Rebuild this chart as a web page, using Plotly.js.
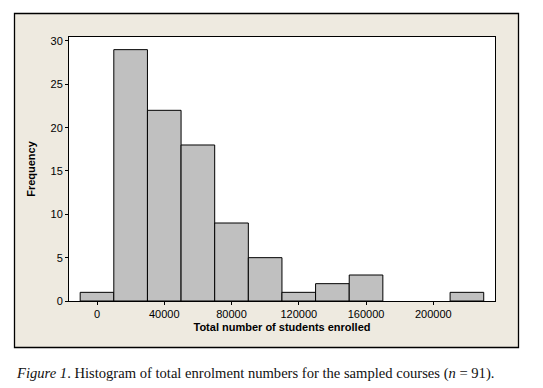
<!DOCTYPE html>
<html>
<head>
<meta charset="utf-8">
<script src="https://cdn.plot.ly/plotly-3.0.1.min.js"></script>
<style>html,body{margin:0;padding:0;background:#fff;}#chart{width:543px;height:388px;}</style>
</head>
<body>
<div id="chart"></div>
<script>
// Data (bin width 20000)
var binCenters = [0, 20000, 40000, 60000, 80000, 100000, 120000, 140000, 160000, 180000, 200000, 220000];
var frequencies = [1, 29, 22, 18, 9, 5, 1, 2, 3, 0, 0, 1];
var binWidth = 20000;
var xTickVals = [0, 40000, 80000, 120000, 160000, 200000];
var yTickVals = [0, 5, 10, 15, 20, 25, 30];
var xTitle = 'Total number of students enrolled';
var yTitle = 'Frequency';
var caption = '<i>Figure 1</i>. Histogram of total enrolment numbers for the sampled courses (<i>n</i> = 91).';

var W = 543, H = 388;
var L = 69, R = 495, T = 37, B = 301;
var pw = R - L, ph = B - T;
function px(x) { return (x - L) / pw; }
function py(y) { return (B - y) / ph; }

var trace = {
  type: 'bar',
  x: binCenters,
  y: frequencies,
  width: binCenters.map(function(){ return binWidth; }),
  marker: {
    color: '#c0c0c0',
    line: { color: '#000', width: frequencies.map(function(v){ return v > 0 ? 1 : 0; }) }
  },
  hoverinfo: 'x+y'
};

var font = { family: 'Liberation Sans, Arial, sans-serif', size: 11, color: '#000' };
var boldFont = { family: 'Liberation Sans, Arial, sans-serif', size: 11, color: '#000', weight: 'bold' };

var layout = {
  width: W, height: H,
  margin: { l: L, r: W - R, t: T, b: H - B, pad: 0 },
  paper_bgcolor: '#ffffff',
  plot_bgcolor: '#ffffff',
  showlegend: false,
  bargap: 0,
  font: font,
  xaxis: {
    range: [-16650, 236700],
    tickvals: xTickVals,
    tickformat: 'd',
    ticks: 'outside', ticklen: 3, tickwidth: 1, tickcolor: '#000',
    showline: true, linecolor: '#000', linewidth: 1, mirror: true,
    showgrid: false, zeroline: false,
    tickfont: font,
    title: { text: xTitle, font: boldFont, standoff: 4 },
    fixedrange: true
  },
  yaxis: {
    range: [0, 30.46],
    tickvals: yTickVals,
    ticks: 'outside', ticklen: 3, tickwidth: 1, tickcolor: '#000',
    showline: true, linecolor: '#000', linewidth: 1, mirror: true,
    showgrid: false, zeroline: false,
    tickfont: font,
    title: { text: yTitle, font: boldFont, standoff: 12 },
    fixedrange: true
  },
  shapes: [{
    type: 'rect', xref: 'paper', yref: 'paper', layer: 'below',
    x0: px(14.5), x1: px(518.5), y0: py(347.5), y1: py(13.5),
    fillcolor: '#eeeae0', line: { color: '#000', width: 1.3 }
  }, {
    type: 'rect', xref: 'paper', yref: 'paper', layer: 'below',
    x0: 0, x1: 1, y0: 0, y1: 1,
    fillcolor: '#ffffff', line: { width: 0 }
  }],
  annotations: [{
    xref: 'paper', yref: 'paper', x: px(14), y: py(373),
    xanchor: 'left', yanchor: 'middle', showarrow: false,
    text: caption,
    font: { family: 'Liberation Serif, Times New Roman, serif', size: 14.6, color: '#111' }
  }]
};

Plotly.newPlot('chart', [trace], layout, { displayModeBar: false, staticPlot: true });
</script>
</body>
</html>
